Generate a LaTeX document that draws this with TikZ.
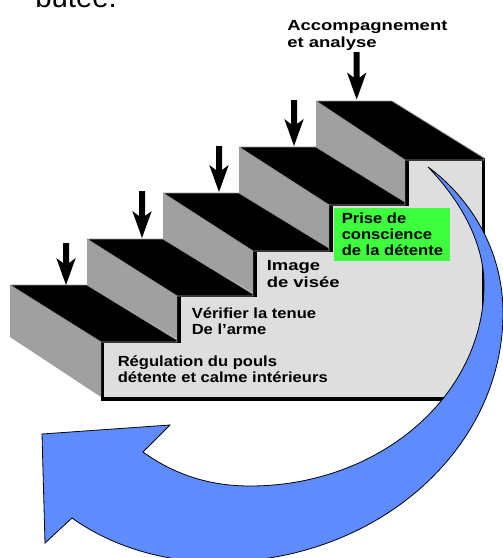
\documentclass[tikz,border=0pt]{standalone}
\usepackage{fontspec}
\setmainfont{Liberation Sans}
\newfontfamily\wideA[FakeStretch=1.13]{Liberation Sans}
\newfontfamily\wideB[FakeStretch=1.26]{Liberation Sans}
\definecolor{panelgrey}{HTML}{DEDEDE}
\definecolor{sidegrey}{HTML}{A0A0A0}
\definecolor{edgegrey}{HTML}{999999}
\definecolor{flowblue}{HTML}{5E8CFF}
\definecolor{notegreen}{HTML}{3DFF3D}
\tikzset{
  x=0.75pt,y=-0.75pt,
  sideface/.style={fill=sidegrey},
  tread/.style={fill=black,draw=edgegrey,line width=0.6pt,line join=round},
  labeltext/.style={font=\wideA\bfseries\fontsize{11}{12}\selectfont,align=left,anchor=north west,inner sep=0pt,text=black},
  labelwide/.style={labeltext,font=\wideB\bfseries\fontsize{11}{12.8}\selectfont},
}
\newcommand{\downarrowshape}[3]{% x, top, tip
  \fill[black] (#1-3,#2) -- (#1+3,#2) -- (#1+3,#3-22) -- (#1+9.7,#3-27) -- (#1,#3) -- (#1-9.7,#3-27) -- (#1-3,#3-22) -- cycle;
}
\begin{document}
\begin{tikzpicture}
\useasboundingbox (0,0) rectangle (503,558);
\clip (0,0) rectangle (503,558);
\fill[white] (0,0) rectangle (503,558);
\node[anchor=base west,inner sep=0pt,font=\fontsize{22}{24}\selectfont] (top) at (35,7.5) {butée.};
% panel
\draw[fill=panelgrey,line width=2.6pt,miter limit=10] (102.5,341) -- (179,341) -- (179,295) -- (255,295) -- (255,250) -- (331,250) -- (331,204) -- (407,204) -- (407,159.5) -- (483.5,159.5) -- (483.5,399) -- (102.5,399) -- cycle;
% side faces
\fill[sideface] (10,285) -- (101,341) -- (101,397) -- (10,337) -- cycle;
\fill[sideface] (87,239) -- (177,294) -- (177,339) -- (87,285) -- cycle;
\fill[sideface] (163,193) -- (253,248) -- (253,293) -- (163,239) -- cycle;
\fill[sideface] (239,147) -- (329,202) -- (329,248) -- (239,193) -- cycle;
\fill[sideface] (316,101) -- (405,156) -- (405,202) -- (316,147) -- cycle;
% treads
\filldraw[tread] (10,285) -- (87,285) -- (177,340) -- (177,342) -- (101,342) -- cycle;
\filldraw[tread] (87,239) -- (163,239) -- (253,294) -- (253,296) -- (177,296) -- cycle;
\filldraw[tread] (163,193) -- (239,193) -- (329,248) -- (329,251) -- (253,251) -- cycle;
\filldraw[tread] (239,147) -- (316,147) -- (405,202) -- (405,205) -- (329,205) -- cycle;
\filldraw[tread] (316,101) -- (392,101) -- (484,158) -- (484,160) -- (405,160) -- cycle;
% arrows
\downarrowshape{66}{243}{285}
\downarrowshape{142}{191}{238}
\downarrowshape{219}{146}{192}
\downarrowshape{294}{100}{146}
\downarrowshape{356.7}{52}{99.5}
% blue arrow
\draw[fill=flowblue,line width=0.6pt,line join=miter]
  (428,167) .. controls (460,190) and (503,240) .. (503,313)
  .. controls (503,450.5) and (375.4,562) .. (218,562)
  .. controls (160,562) and (110,545) .. (72,518)
  -- (45,543) -- (42,434) -- (170,425) -- (143,452)
  .. controls (175,475) and (210,486) .. (250,486)
  .. controls (379,486) and (484,396) .. (484,285)
  .. controls (484,240) and (458,198) .. (428,167) -- cycle;
% green box
\fill[notegreen] (334,208) rectangle (450,261);
% labels
\node[labelwide] (l5) at (287,20) {Accompagnement\\et analyse};
\node[labeltext] (l4) at (341.5,213) {Prise de\\conscience\\de la détente};
\node[labelwide] (l3) at (266.5,260) {Image\\de visée};
\node[labeltext] (l2) at (191.5,307) {Vérifier la tenue\\De l’arme};
\node[labeltext] (l1) at (117.5,355) {Régulation du pouls\\détente et calme intérieurs};
\end{tikzpicture}
\end{document}
